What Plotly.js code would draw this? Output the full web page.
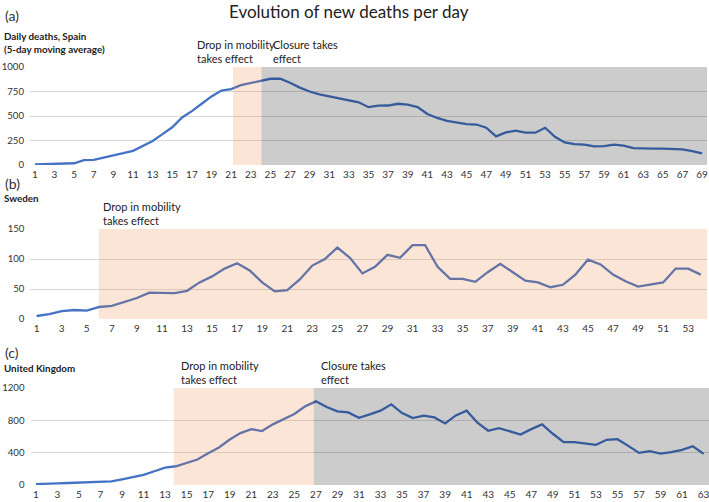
<!DOCTYPE html>
<html>
<head>
<meta charset="utf-8">
<script src="https://cdn.plot.ly/plotly-3.0.1.min.js"></script>
<style>html,body{margin:0;padding:0;background:#fff;}#chart{width:709px;height:502px;}</style>
</head>
<body>
<div id="chart"></div>
<script>
// ---- Data ----
const spainDays = [1,2,3,4,5,6,7,8,9,10,11,12,13,14,15,16,17,18,19,20,21,22,23,24,25,26,27,28,29,30,31,32,33,34,35,36,37,38,39,40,41,42,43,44,45,46,47,48,49,50,51,52,53,54,55,56,57,58,59,60,61,62,63,64,65,66,67,68,69];
const spainDeaths = [5,8,13,20,18,50,52,75,95,120,145,195,245,315,385,485,550,625,700,760,775,815,835,860,880,880,840,790,750,720,700,685,660,640,590,605,607,625,617,590,520,480,450,430,417,413,380,292,332,350,330,330,380,288,230,213,207,190,193,207,197,173,167,167,167,163,160,142,119];
const spainTicks = [1,3,5,7,9,11,13,15,17,19,21,23,25,27,29,31,33,35,37,39,41,43,45,47,49,51,53,55,57,59,61,63,65,67,69];
const spainYTicks = [0,250,500,750,1000];

const swedenDays = [1,2,3,4,5,6,7,8,9,10,11,12,13,14,15,16,17,18,19,20,21,22,23,24,25,26,27,28,29,30,31,32,33,34,35,36,37,38,39,40,41,42,43,44,45,46,47,48,49,50,51,52,53,54];
const swedenDeaths = [5,8,13,15,14,20,22,28,35,44,44,43,47,61,71,84,93,81,61,46,48,66,89,100,119,102,76,87,107,102,123,123,87,67,67,62,78,92,78,64,61,53,57,74,99,91,74,63,54,57,61,84,84,74];
const swedenTicks = [1,3,5,7,9,11,13,15,17,19,21,23,25,27,29,31,33,35,37,39,41,43,45,47,49,51,53];
const swedenYTicks = [0,50,100,150];

const ukDays = [1,2,3,4,5,6,7,8,9,10,11,12,13,14,15,16,17,18,19,20,21,22,23,24,25,26,27,28,29,30,31,32,33,34,35,36,37,38,39,40,41,42,43,44,45,46,47,48,49,50,51,52,53,54,55,56,57,58,59,60,61,62,63];
const ukDeaths = [12,12,20,25,29,33,37,45,70,100,125,170,215,232,273,315,393,464,563,642,691,667,750,816,878,973,1035,965,911,898,832,873,919,998,890,828,857,836,762,861,919,770,671,704,663,625,691,750,634,530,530,509,497,559,567,484,397,418,389,406,435,480,385];
const ukTicks = [1,3,5,7,9,11,13,15,17,19,21,23,25,27,29,31,33,35,37,39,41,43,45,47,49,51,53,55,57,59,61,63];
const ukYTicks = [0,400,800,1200];

// Periods (day positions) for shaded regions
const spainMobility = [21.2, 24.1];
const spainClosure = [24.1, 69.5];
const swedenMobility = [5.96, 54.5];
const ukMobility = [13.8, 26.8];
const ukClosure = [26.8, 63.5];

// ---- Styles ----
const FONT = 'Lato, "Open Sans", sans-serif';
const LINE = '#4472c4';
const PEACH = 'rgba(237,125,49,0.2)';
const GREY = 'rgba(0,0,0,0.2)';
const W = 709, H = 502;
const px = v => v / W;
const py = v => 1 - v / H;

function xa(domain, range, ticks) {
  return {
    domain: domain, range: range, tickmode: 'array', tickvals: ticks, ticktext: ticks.map(String),
    showgrid: false, zeroline: false, showline: false, ticks: '', ticklabeloverflow: 'allow',
    tickfont: {family: FONT, size: 10, color: '#333'}, fixedrange: true, ticklabelstandoff: 2
  };
}
function ya(domain, range, ticks) {
  return {
    domain: domain, range: range, tickmode: 'array', tickvals: ticks, ticktext: ticks.map(String),
    showgrid: true, gridcolor: '#d9d9d9', gridwidth: 1, zeroline: false, showline: false, ticks: '',
    ticklabeloverflow: 'allow',
    tickfont: {family: FONT, size: 9.6, color: '#333'}, fixedrange: true, ticklabelstandoff: 5
  };
}

const traces = [
  {x: spainDays, y: spainDeaths, xaxis: 'x', yaxis: 'y', type: 'scatter', mode: 'lines', line: {color: LINE, width: 2.3}, hoverinfo: 'skip'},
  {x: swedenDays, y: swedenDeaths, xaxis: 'x2', yaxis: 'y2', type: 'scatter', mode: 'lines', line: {color: LINE, width: 2.3}, hoverinfo: 'skip'},
  {x: ukDays, y: ukDeaths, xaxis: 'x3', yaxis: 'y3', type: 'scatter', mode: 'lines', line: {color: LINE, width: 2.3}, hoverinfo: 'skip'}
];

function rect(xr, yr, span, top, color) {
  return {type: 'rect', xref: xr, yref: yr, x0: span[0], x1: span[1], y0: 0, y1: top, fillcolor: color, line: {width: 0}, layer: 'above'};
}

const shapes = [
  rect('x', 'y', spainMobility, spainYTicks[spainYTicks.length-1], PEACH),
  rect('x', 'y', spainClosure, spainYTicks[spainYTicks.length-1], GREY),
  rect('x2', 'y2', swedenMobility, swedenYTicks[swedenYTicks.length-1], PEACH),
  rect('x3', 'y3', ukMobility, ukYTicks[ukYTicks.length-1], PEACH),
  rect('x3', 'y3', ukClosure, ukYTicks[ukYTicks.length-1], GREY)
];

function note(text, x, y, size, opts) {
  return Object.assign({text: text, xref: 'paper', yref: 'paper', x: px(x), y: py(y), xanchor: 'left', yanchor: 'middle',
    showarrow: false, align: 'left', font: {family: FONT, size: size, color: '#222'}}, opts || {});
}

const annotations = [
  note('Evolution of new deaths per day', 349, 12, 17, {xanchor: 'center'}),
  note('(a)', 3, 16, 14, {font: {family: FONT, size: 14, color: '#333'}}),
  note('<b>Daily deaths, Spain<br>(5-day moving average)</b>', 2, 42.5, 9.8),
  note('Drop in mobility<br>takes effect', 195, 51.5, 11),
  note('Closure takes<br>effect', 271, 51.5, 11),
  note('(b)', 3, 183, 14, {font: {family: FONT, size: 14, color: '#333'}}),
  note('<b>Sweden</b>', 2, 198, 9.8),
  note('Drop in mobility<br>takes effect', 101, 213.5, 11),
  note('(c)', 3, 352, 14, {font: {family: FONT, size: 14, color: '#333'}}),
  note('<b>United Kingdom</b>', 2, 368, 9.8),
  note('Drop in mobility<br>takes effect', 179, 372, 11),
  note('Closure takes<br>effect', 319, 372, 11)
];

const layout = {
  width: W, height: H, margin: {l: 0, r: 0, t: 0, b: 0}, paper_bgcolor: '#fff', plot_bgcolor: 'rgba(0,0,0,0)',
  showlegend: false,
  xaxis: xa([px(30), px(707)], [0.5, 69.5], spainTicks),
  yaxis: ya([py(165), py(67)], [0, 1000], spainYTicks),
  xaxis2: xa([px(30.4), px(707)], [0.5, 54.5], swedenTicks),
  yaxis2: ya([py(319), py(229)], [0, 150], swedenYTicks),
  xaxis3: xa([px(30.5), px(709)], [0.5, 63.5], ukTicks),
  yaxis3: ya([py(485), py(388)], [0, 1200], ukYTicks),
  shapes: shapes,
  annotations: annotations
};
layout.xaxis2.anchor = 'y2'; layout.yaxis2.anchor = 'x2';
layout.xaxis3.anchor = 'y3'; layout.yaxis3.anchor = 'x3';

Plotly.newPlot('chart', traces, layout, {displayModeBar: false, staticPlot: true});
</script>
</body>
</html>
